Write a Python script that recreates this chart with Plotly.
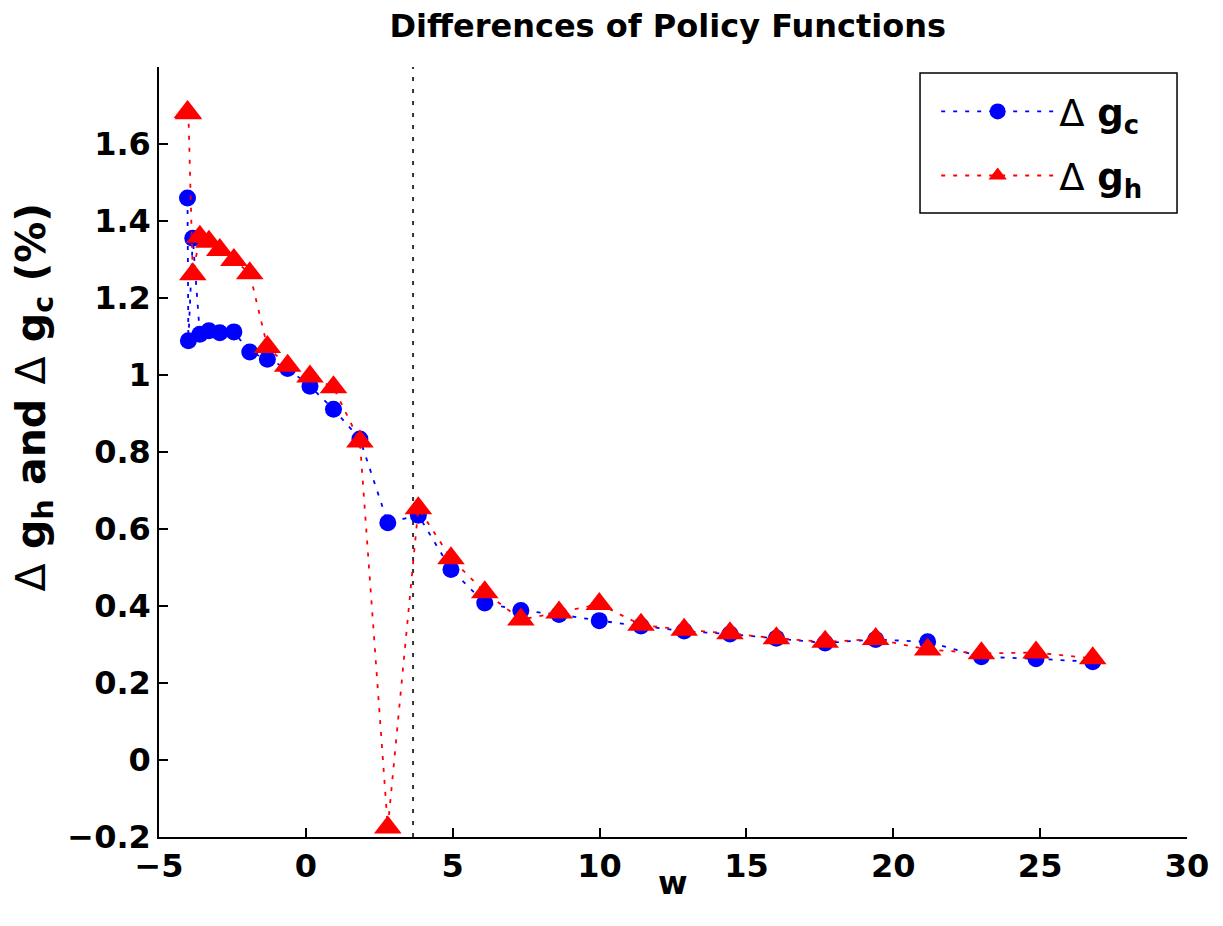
import plotly.graph_objects as go

# ---- data ----
w = [-4.03, -4.0, -3.85, -3.61, -3.3, -2.93, -2.45, -1.91, -1.31, -0.62, 0.14, 0.94,
     1.84, 2.79, 3.83, 4.94, 6.09, 7.32, 8.62, 9.99, 11.41, 12.88, 14.44, 16.02,
     17.68, 19.4, 21.17, 23.0, 24.86, 26.79]
delta_gc = [1.46, 1.089, 1.355, 1.106, 1.115, 1.11, 1.112, 1.06, 1.041, 1.017, 0.971, 0.911,
            0.834, 0.616, 0.636, 0.495, 0.408, 0.388, 0.378, 0.362, 0.348, 0.335, 0.327, 0.316,
            0.304, 0.313, 0.307, 0.268, 0.263, 0.255]
delta_gh = [1.683, 1.68, 1.262, 1.359, 1.346, 1.325, 1.299, 1.264, 1.073, 1.024, 0.996, 0.968,
            0.827, -0.175, 0.654, 0.524, 0.436, 0.365, 0.383, 0.405, 0.351, 0.338, 0.329, 0.316,
            0.307, 0.314, 0.287, 0.277, 0.279, 0.264]
w_threshold = 3.65
x_ticks = [-5, 0, 5, 10, 15, 20, 25, 30]
y_ticks = [-0.2, 0, 0.2, 0.4, 0.6, 0.8, 1.0, 1.2, 1.4, 1.6]
y_tick_labels = ["\u22120.2", "0", "0.2", "0.4", "0.6", "0.8", "1", "1.2", "1.4", "1.6"]
x_tick_labels = ["\u22125", "0", "5", "10", "15", "20", "25", "30"]
y_range = [-0.2, 1.8]

FONT = "DejaVu Sans, Verdana, sans-serif"
DOT = "4px,8px"
D = "<span style='font-weight:normal'>\u0394</span>"

fig = go.Figure()

fig.add_trace(go.Scatter(
    x=[w_threshold, w_threshold], y=y_range, mode="lines",
    line=dict(color="#333333", width=2, dash=DOT),
    showlegend=False, hoverinfo="skip"))

fig.add_trace(go.Scatter(
    x=w, y=delta_gc, mode="lines+markers", legendgroup="c",
    name=D + " g<sub>c</sub>",
    line=dict(color="#0000ff", width=1.8, dash=DOT),
    marker=dict(symbol="circle", size=17, color="#0000ff", line=dict(width=0))))

fig.add_trace(go.Scatter(
    x=w, y=delta_gh, mode="lines+markers", legendgroup="h",
    name=D + " g<sub>h</sub>",
    line=dict(color="#ff0000", width=1.8, dash=DOT),
    marker=dict(symbol="triangle-up", size=24, color="#ff0000", line=dict(width=0))))

fig.update_layout(
    width=1223, height=926,
    margin=dict(l=159, r=36, t=67, b=89),
    paper_bgcolor="white", plot_bgcolor="white",
    font=dict(family=FONT, color="black", size=26, weight="bold"),
    title=dict(text="<b>Differences of Policy Functions</b>", x=0.546, xanchor="center",
               y=0.972, yanchor="middle", font=dict(size=32, family=FONT, weight="bold")),
    showlegend=True,
    legend=dict(x=0.756, xanchor="left", y=0.982, yanchor="top",
                bgcolor="rgba(0,0,0,0)", borderwidth=0,
                font=dict(size=37, family=FONT, weight="bold"),
                itemwidth=113, tracegroupgap=13, valign="middle"),
    shapes=[dict(type="rect", xref="paper", yref="paper",
                 x0=0.7403, x1=0.9903, y0=0.8104, y1=0.9922,
                 line=dict(color="black", width=1.5), fillcolor="white", layer="above")],
    xaxis=dict(range=[-5, 30], tickvals=x_ticks, ticktext=x_tick_labels,
               ticks="inside", ticklen=9, tickwidth=1.5, tickcolor="black",
               showline=True, linecolor="black", linewidth=1.5, mirror=False,
               showgrid=False, zeroline=False,
               tickfont=dict(size=32, family=FONT, weight="bold")),
    yaxis=dict(range=y_range, tickvals=y_ticks, ticktext=y_tick_labels,
               ticks="inside", ticklen=9, tickwidth=1.5, tickcolor="black",
               showline=True, linecolor="black", linewidth=1.5, mirror=False,
               showgrid=False, zeroline=False,
               tickfont=dict(size=32, family=FONT, weight="bold")),
    annotations=[
        dict(text="<b>w</b>", xref="paper", yref="paper", x=0.5, y=-0.060,
             xanchor="center", yanchor="middle", showarrow=False,
             font=dict(size=32, family=FONT, weight="bold")),
        dict(text="<b>" + D + " g<sub>h</sub> and " + D + " g<sub>c</sub> (%)</b>",
             xref="paper", yref="paper", x=-0.1215, y=0.571, textangle=-90,
             xanchor="center", yanchor="middle", showarrow=False,
             font=dict(size=41, family=FONT, weight="bold")),
    ],
)

fig.write_html("out.html")
